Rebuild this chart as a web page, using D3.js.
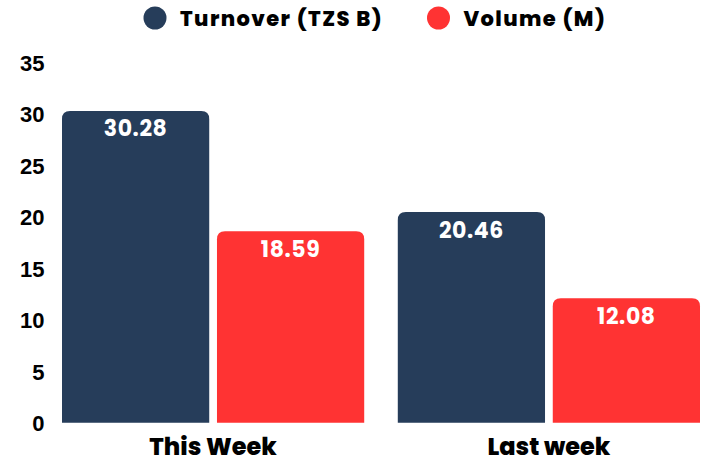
<!DOCTYPE html>
<html>
<head>
<meta charset="utf-8">
<script src="https://cdn.jsdelivr.net/npm/d3@7"></script>
<style>
  body { margin: 0; background: #fff; }
  svg { display: block; }
</style>
</head>
<body>
<svg id="chart"></svg>
<script>
const categories = ["This Week", "Last week"];
const seriesNames = ["Turnover (TZS B)", "Volume (M)"];
const turnover = [30.28, 20.46];
const volume = [18.59, 12.08];
const yTicks = [0, 5, 10, 15, 20, 25, 30, 35];

const width = 708, height = 462;
const colors = ["#263d5a", "#ff3333"];
const labelFont = "Poppins, Inter, 'Open Sans', sans-serif";

const svg = d3.select("#chart")
    .attr("width", width)
    .attr("height", height);

const x0 = d3.scaleBand()
    .domain(categories)
    .range([62, 700])
    .paddingInner(0.1);

const x1 = d3.scaleBand()
    .domain(seriesNames)
    .range([0, x0.bandwidth()])
    .paddingInner(0.05);

const y = d3.scaleLinear()
    .domain([0, 35])
    .range([422.7, 62.4]);

const rows = categories.map((c, i) => ({
    category: c,
    values: [
        { key: seriesNames[0], value: turnover[i] },
        { key: seriesNames[1], value: volume[i] }
    ]
}));

// top-rounded bar
function barPath(x, yTop, w, yBase, r) {
    return `M${x},${yBase}V${yTop + r}Q${x},${yTop} ${x + r},${yTop}` +
        `H${x + w - r}Q${x + w},${yTop} ${x + w},${yTop + r}V${yBase}Z`;
}

// y axis labels
svg.append("g")
    .selectAll("text")
    .data(yTicks)
    .join("text")
    .attr("x", 44.5)
    .attr("y", d => y(d))
    .attr("dy", "0.38em")
    .attr("text-anchor", "end")
    .style("font-family", "'Liberation Sans', Arial, sans-serif")
    .style("font-weight", 700)
    .style("font-size", "22px")
    .attr("fill", "#000")
    .text(d => d);

const groups = svg.append("g")
    .selectAll("g")
    .data(rows)
    .join("g")
    .attr("transform", d => `translate(${x0(d.category)},0)`);

groups.selectAll("path")
    .data(d => d.values)
    .join("path")
    .attr("fill", (d, i) => colors[i])
    .attr("d", d => barPath(x1(d.key), y(d.value), x1.bandwidth(), y(0), 8));

groups.selectAll("text")
    .data(d => d.values)
    .join("text")
    .attr("x", d => x1(d.key) + x1.bandwidth() / 2)
    .attr("y", d => y(d.value) + 25.5)
    .attr("text-anchor", "middle")
    .attr("fill", "#fff")
    .style("font-family", labelFont)
    .style("font-weight", 700)
    .style("font-size", "22px")
    .style("letter-spacing", "0.6px")
    .text(d => d.value.toFixed(2));

// category labels
svg.append("g")
    .selectAll("text")
    .data(categories)
    .join("text")
    .attr("x", d => x0(d) + x0.bandwidth() / 2)
    .attr("y", 455)
    .attr("text-anchor", "middle")
    .attr("fill", "#000")
    .style("font-family", labelFont)
    .style("font-weight", 800)
    .style("font-size", "24px")
    .text(d => d);

// legend
const legendPos = [155, 438.5];
const legend = svg.append("g")
    .selectAll("g")
    .data(seriesNames)
    .join("g")
    .attr("transform", (d, i) => `translate(${legendPos[i]},18)`);

legend.append("circle")
    .attr("r", 11.5)
    .attr("fill", (d, i) => colors[i]);

legend.append("text")
    .attr("x", 25)
    .attr("y", 8)
    .attr("fill", "#000")
    .style("font-family", labelFont)
    .style("font-weight", 800)
    .style("font-size", "21px")
    .style("letter-spacing", "1.4px")
    .text(d => d);
</script>
</body>
</html>
